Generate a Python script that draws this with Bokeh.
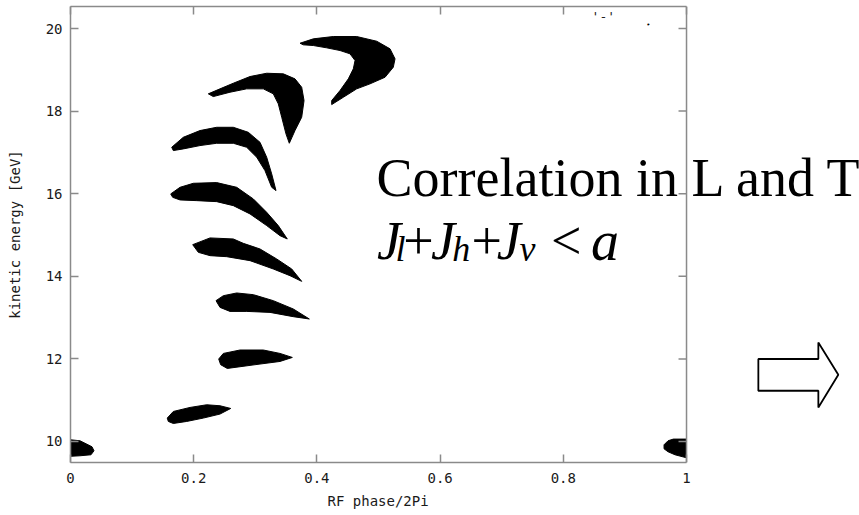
import math

from bokeh.plotting import figure
from bokeh.models import Range1d, LinearAxis, FixedTicker, Label, PolyAnnotation, Span, Title
from bokeh.embed import file_html
from bokeh.resources import INLINE

# Axis ticks
phase_ticks = [0, 0.2, 0.4, 0.6, 0.8, 1]
phase_tick_labels = ["0", "0.2", "0.4", "0.6", "0.8", "1"]
energy_ticks = [10, 12, 14, 16, 18, 20]

# Outlines of the particle bunches: RF phase/2Pi and kinetic energy [GeV]
bunch_a_phase = [0.3726, 0.3942, 0.4266, 0.4646, 0.4971, 0.5187, 0.5268, 0.5240, 0.5106, 0.4862,
                 0.4646, 0.4429, 0.4240, 0.4240, 0.4375, 0.4510, 0.4591, 0.4619, 0.4537, 0.4375,
                 0.4159, 0.3942, 0.3779]
bunch_a_energy = [19.644, 19.750, 19.806, 19.806, 19.692, 19.508, 19.266, 19.062, 18.820, 18.660,
                  18.539, 18.335, 18.158, 18.255, 18.498, 18.781, 19.023, 19.225, 19.387, 19.467,
                  19.532, 19.588, 19.605]

bunch_b_phase = [0.2237, 0.2427, 0.2643, 0.2914, 0.3185, 0.3455, 0.3644, 0.3753, 0.3791, 0.3753,
                 0.3644, 0.3552, 0.3498, 0.3429, 0.3373, 0.3292, 0.3130, 0.2860, 0.2589, 0.2318]
bunch_b_energy = [18.418, 18.539, 18.675, 18.837, 18.917, 18.902, 18.781, 18.578, 18.255, 17.851,
                  17.528, 17.221, 17.449, 17.851, 18.176, 18.418, 18.539, 18.539, 18.457, 18.352]

bunch_c_phase = [0.1643, 0.1831, 0.2102, 0.2373, 0.2643, 0.2886, 0.3076, 0.3185, 0.3266, 0.3336,
                 0.3266, 0.3157, 0.3023, 0.2860, 0.2643, 0.2373, 0.2102, 0.1831, 0.1669]
bunch_c_energy = [17.124, 17.366, 17.529, 17.608, 17.608, 17.487, 17.245, 16.882, 16.479, 16.075,
                  16.155, 16.559, 16.882, 17.124, 17.221, 17.221, 17.165, 17.085, 17.044]

bunch_d_phase = [0.1627, 0.1778, 0.1994, 0.2373, 0.2698, 0.2968, 0.3185, 0.3373, 0.3519,
                 0.3401, 0.3185, 0.2914, 0.2643, 0.2373, 0.2049, 0.1778, 0.1659]
bunch_d_energy = [15.995, 16.155, 16.252, 16.269, 16.155, 15.873, 15.549, 15.227, 14.904,
                  14.984, 15.227, 15.510, 15.711, 15.808, 15.832, 15.849, 15.912]

bunch_e_phase = [0.1984, 0.2265, 0.2643, 0.2805, 0.3076, 0.3347, 0.3591, 0.3753,
                 0.3563, 0.3292, 0.2914, 0.2536, 0.2265, 0.2075]
bunch_e_energy = [14.766, 14.929, 14.904, 14.798, 14.662, 14.420, 14.177, 13.877,
                  14.015, 14.177, 14.379, 14.475, 14.500, 14.580]

bunch_f_phase = [0.2362, 0.2481, 0.2698, 0.2968, 0.3292, 0.3617, 0.3877,
                 0.3617, 0.3239, 0.2860, 0.2589, 0.2427]
bunch_f_energy = [13.410, 13.530, 13.596, 13.555, 13.410, 13.208, 12.966,
                  13.022, 13.126, 13.150, 13.150, 13.247]

bunch_g_phase = [0.2406, 0.2481, 0.2752, 0.3130, 0.3401, 0.3601, 0.3401, 0.3076, 0.2752, 0.2545, 0.2438]
bunch_g_energy = [11.997, 12.132, 12.215, 12.215, 12.132, 12.035, 11.938, 11.875, 11.810, 11.769, 11.859]

bunch_h_phase = [0.1571, 0.1669, 0.1940, 0.2211, 0.2427, 0.2601, 0.2427, 0.2156, 0.1886, 0.1669, 0.1588]
bunch_h_energy = [10.567, 10.727, 10.824, 10.889, 10.865, 10.800, 10.664, 10.567, 10.485, 10.436, 10.485]

# The lowest bunch wraps around the phase boundary
bunch_low_left_phase = [0.0, 0.0154, 0.0252, 0.0349, 0.0381, 0.0333, 0.0154, 0.0]
bunch_low_left_energy = [10.041, 10.017, 9.944, 9.872, 9.775, 9.678, 9.654, 9.641]
bunch_low_right_phase = [1.0, 0.9786, 0.9700, 0.9635, 0.9635, 0.9700, 0.9813, 1.0]
bunch_low_right_energy = [10.058, 10.058, 10.017, 9.920, 9.823, 9.751, 9.678, 9.605]

all_phase = [bunch_a_phase, bunch_b_phase, bunch_c_phase, bunch_d_phase, bunch_e_phase,
             bunch_f_phase, bunch_g_phase, bunch_h_phase, bunch_low_left_phase, bunch_low_right_phase]
all_energy = [bunch_a_energy, bunch_b_energy, bunch_c_energy, bunch_d_energy, bunch_e_energy,
              bunch_f_energy, bunch_g_energy, bunch_h_energy, bunch_low_left_energy, bunch_low_right_energy]

AXIS_GREY = "#8a8a8a"
MONO = "DejaVu Sans Mono"
SERIF = "Liberation Serif"
PHASE_MIN, PHASE_MAX = 0.0, 1.0
# the frame continues to the right of phase 1 so the slide text and arrow fit on it
VIEW_END = 1.2808

p = figure(width=859, height=515, x_range=Range1d(0, VIEW_END), y_range=Range1d(9.491, 20.533),
           output_backend="svg", toolbar_location=None,
           min_border_left=70, min_border_right=0, min_border_top=6, min_border_bottom=53)
p.grid.visible = False
p.outline_line_color = None
p.background_fill_color = "white"
p.border_fill_color = "white"

p.patches(xs=all_phase, ys=all_energy, fill_color="black", line_color="black", line_width=1)


def style_axis(ax, show_labels):
    ax.axis_line_color = AXIS_GREY
    ax.axis_line_width = 1.5
    ax.major_tick_line_color = AXIS_GREY
    ax.major_tick_line_width = 1.5
    ax.major_tick_in = 8
    ax.major_tick_out = 0
    ax.minor_tick_line_color = None
    if show_labels:
        ax.major_label_text_font = MONO
        ax.major_label_text_font_size = "14px"
        ax.major_label_text_color = "#1a1a1a"
        ax.axis_label_text_font = MONO
        ax.axis_label_text_font_size = "14px"
        ax.axis_label_text_font_style = "normal"
        ax.axis_label_text_color = "#1a1a1a"
    else:
        ax.major_label_text_color = None
        ax.major_label_text_font_size = "1px"
        ax.major_label_standoff = 0


xaxis = p.xaxis[0]
xaxis.ticker = FixedTicker(ticks=phase_ticks)
xaxis.bounds = (PHASE_MIN, PHASE_MAX)
xaxis.major_label_overrides = {t: s for t, s in zip(phase_ticks, phase_tick_labels)}
style_axis(xaxis, True)
xaxis.major_label_standoff = 10

# x-axis title, centred under the phase interval rather than the whole frame
p.add_layout(Title(text="RF phase/2Pi", align="left", offset=257, standoff=11,
                   text_font=MONO, text_font_size="14px", text_font_style="normal",
                   text_color="#1a1a1a"), "below")

yaxis = p.yaxis[0]
yaxis.ticker = FixedTicker(ticks=energy_ticks)
yaxis.axis_label = "kinetic energy [GeV]"
style_axis(yaxis, True)
yaxis.major_label_standoff = 8
yaxis.axis_label_standoff = 20

top_axis = LinearAxis(ticker=FixedTicker(ticks=phase_ticks), bounds=(PHASE_MIN, PHASE_MAX))
style_axis(top_axis, False)
p.add_layout(top_axis, "above")

# right-hand border at phase 1 with inward ticks
p.add_layout(Span(location=PHASE_MAX, dimension="height", line_color=AXIS_GREY, line_width=1.5))
p.ray(x=[PHASE_MAX] * len(energy_ticks), y=energy_ticks, length=8, length_units="screen",
      angle=math.pi, line_color=AXIS_GREY, line_width=1.5)

# Key in the top right corner
p.add_layout(Label(x=0.884, y=20.29, text="'-'", text_font=MONO, text_font_size="13px",
                   text_align="right", text_baseline="middle", text_color="#222222"))
p.add_layout(Label(x=0.938, y=20.097, text="\u2022", text_font=MONO, text_font_size="7px",
                   text_align="center", text_baseline="middle", text_color="black"))

# Slide annotation
p.add_layout(Label(x=0.4968, y=16.37, text="Correlation in L and T", text_font=SERIF,
                   text_font_size="54px", text_align="left", text_baseline="alphabetic",
                   text_color="black"))

line2_base = 14.863
sub_drop = 0.2
pieces = [
    ("J", 0.4976, 0, "italic", "54px"),
    ("l", 0.5276, sub_drop, "italic", "36px"),
    ("+", 0.5400, 0, "normal", "54px"),
    ("J", 0.5852, 0, "italic", "54px"),
    ("h", 0.6195, sub_drop, "italic", "36px"),
    ("+", 0.6510, 0, "normal", "54px"),
    ("J", 0.6920, 0, "italic", "54px"),
    ("v", 0.7290, sub_drop, "italic", "36px"),
    ("<", 0.7800, 0, "normal", "54px"),
    ("a", 0.8450, 0, "italic", "56px"),
]
for txt, xpos, drop, style, size in pieces:
    p.add_layout(Label(x=xpos, y=line2_base - drop, text=txt, text_font=SERIF,
                       text_font_size=size, text_font_style=style, text_align="left",
                       text_baseline="alphabetic", text_color="black"))

# Block arrow pointing right
p.add_layout(PolyAnnotation(xs=[1.1166, 1.2140, 1.2140, 1.2464, 1.2140, 1.2140, 1.1166],
                            ys=[11.997, 11.997, 12.399, 11.616, 10.824, 11.229, 11.229],
                            fill_color=None, fill_alpha=0, line_color="black", line_alpha=1,
                            line_width=1.8))

open("out.html", "w").write(file_html(p, INLINE))
